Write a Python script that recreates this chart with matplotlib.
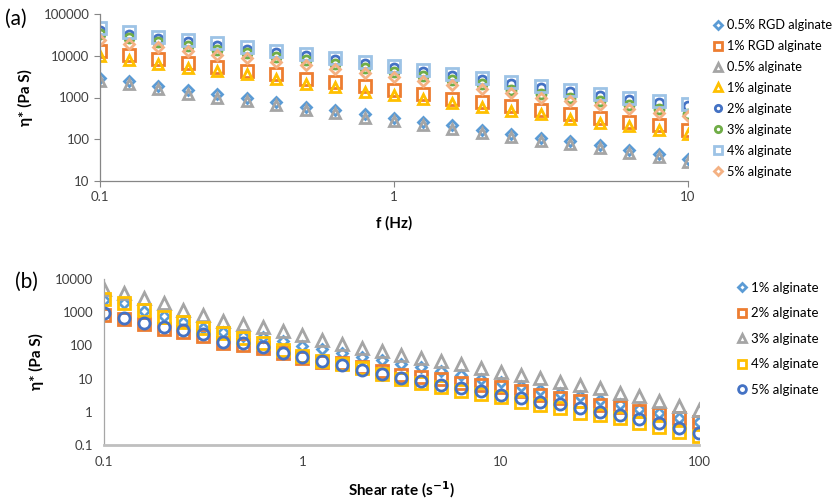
import matplotlib
matplotlib.use("Agg")
import matplotlib.pyplot as plt
import matplotlib.ticker as mticker
import numpy as np

plt.rcParams["font.family"] = ["Lato", "DejaVu Sans"]

# ── Panel (a): complex viscosity vs frequency ────────────────────────────────
freq = [0.1, 0.126, 0.158, 0.2, 0.251, 0.316, 0.398, 0.501, 0.631, 0.794, 1.0,
        1.26, 1.58, 2.0, 2.51, 3.16, 3.98, 5.01, 6.31, 7.94, 10.0]

visc_rgd_05 = [2950, 2500, 1870, 1490, 1190, 995, 780, 590, 510, 395, 330,
               257, 214, 169, 136, 109, 89, 71, 56, 45, 34]
visc_rgd_1 = [13100, 10300, 8300, 6750, 5400, 4330, 3600, 2850, 2360, 1860, 1490,
              1190, 940, 780, 614, 510, 410, 330, 257, 214, 169]
visc_alg_05 = [2450, 2080, 1560, 1240, 990, 830, 650, 490, 425, 330, 275,
               215, 178, 140, 115, 93, 76, 61, 48, 38, 29]
visc_alg_1 = [9800, 7800, 6500, 5200, 4330, 3600, 2850, 2160, 1790, 1360, 1130,
              940, 740, 590, 473, 395, 311, 244, 203, 163, 130]
visc_alg_2 = [40000, 32000, 25500, 21000, 17500, 14000, 11600, 9800, 7900, 6300, 5100,
              4000, 3250, 2650, 2100, 1660, 1330, 1100, 890, 740, 610]
visc_alg_3 = [33000, 26000, 21500, 17000, 14100, 11400, 9300, 7800, 6500, 5200, 4100,
              3240, 2590, 2070, 1550, 1240, 995, 810, 650, 530, 410]
visc_alg_4 = [45300, 36300, 28500, 23700, 19800, 15800, 13100, 11000, 8900, 7100, 5700,
              4500, 3630, 2960, 2360, 1860, 1490, 1240, 995, 825, 690]
visc_alg_5 = [24500, 19000, 15800, 13100, 10300, 8600, 7100, 5900, 4950, 3890, 3110,
              2500, 1960, 1570, 1280, 995, 825, 650, 540, 425, 353]

# ── Panel (b): complex viscosity vs shear rate ───────────────────────────────
shear = [0.1, 0.126, 0.158, 0.2, 0.251, 0.316, 0.398, 0.501, 0.631, 0.794,
         1.0, 1.26, 1.58, 2.0, 2.51, 3.16, 3.98, 5.01, 6.31, 7.94,
         10.0, 12.6, 15.8, 20.0, 25.1, 31.6, 39.8, 50.1, 63.1, 79.4, 100.0]

shear_alg_1 = [2300, 1900, 1120, 770, 490, 340, 260, 190, 180, 132, 96,
               77, 58, 46, 36, 28, 22, 17, 13, 9.8, 8.1,
               6.0, 4.6, 3.6, 2.9, 2.2, 1.7, 1.2, 0.9, 0.63, 0.5]
shear_alg_2 = [830, 620, 440, 320, 260, 190, 117, 105, 82, 60, 43,
               31, 29, 23, 17, 13, 11.5, 9.8, 7.6, 6.5, 5.7,
               4.1, 3.2, 2.6, 2.05, 1.6, 1.4, 1.07, 0.85, 0.63, 0.5]
shear_alg_3 = [4900, 3900, 2600, 1950, 1170, 830, 560, 440, 360, 270, 200,
               145, 110, 85, 66, 51, 42, 34, 27, 21, 16,
               13, 10.2, 7.8, 6.4, 5.1, 3.8, 2.9, 2.05, 1.5, 1.15]
shear_alg_4 = [2500, 1850, 1170, 740, 490, 325, 230, 163, 115, 72, 48,
               35, 27, 21, 14, 10, 7.2, 5.7, 4.1, 3.4, 2.8,
               2.0, 1.6, 1.26, 0.93, 0.8, 0.63, 0.47, 0.35, 0.25, 0.19]
shear_alg_5 = [970, 690, 480, 350, 290, 215, 130, 115, 91, 58, 46,
               35, 26, 18, 14, 10.3, 8.5, 6.5, 5.1, 4.1, 3.2,
               2.6, 2.0, 1.75, 1.32, 1.0, 0.8, 0.59, 0.45, 0.32, 0.23]

BLUE   = "#5B9BD5"
ORANGE = "#ED7D31"
GRAY   = "#A5A5A5"
YELLOW = "#FFC000"
NAVY   = "#4472C4"
GREEN  = "#70AD47"
LBLUE  = "#9DC3E6"
SALMON = "#F4B183"
TICK_C = "#404040"

fmt = mticker.FuncFormatter(lambda v, _: f"{v:g}")

fig = plt.figure(figsize=(8.4, 5.0), dpi=100)
ax_a = fig.add_axes([0.119, 0.638, 0.700, 0.334])
ax_b = fig.add_axes([0.124, 0.110, 0.708, 0.332])

# ── Panel (a) ────────────────────────────────────────────────────────────────
series_a = [
    (visc_rgd_05, "0.5% RGD alginate", "D", BLUE, 5.5),
    (visc_rgd_1,  "1% RGD alginate",   "s", ORANGE, 8),
    (visc_alg_05, "0.5% alginate",     "^", GRAY, 7.5),
    (visc_alg_1,  "1% alginate",       "^", YELLOW, 7.5),
    (visc_alg_2,  "2% alginate",       "o", NAVY, 6.5),
    (visc_alg_3,  "3% alginate",       "o", GREEN, 6.5),
    (visc_alg_4,  "4% alginate",       "s", LBLUE, 8),
    (visc_alg_5,  "5% alginate",       "D", SALMON, 5.5),
]
for vals, lab, mk, col, ms in series_a:
    ax_a.plot(freq, vals, ls="none", marker=mk, ms=ms, mfc="none",
              mec=col, mew=2, label=lab)

ax_a.set_xscale("log")
ax_a.set_yscale("log")
ax_a.set_xlim(0.1, 10)
ax_a.set_ylim(10, 100000)
ax_a.xaxis.set_major_formatter(fmt)
ax_a.yaxis.set_major_formatter(fmt)
ax_a.xaxis.set_minor_locator(mticker.NullLocator())
ax_a.yaxis.set_minor_locator(mticker.NullLocator())
ax_a.tick_params(axis="both", length=4, width=0.8, color="#868686",
                 labelsize=9.5, labelcolor=TICK_C)
for side in ["top", "right"]:
    ax_a.spines[side].set_visible(False)
for side in ["left", "bottom"]:
    ax_a.spines[side].set_color("#868686")
    ax_a.spines[side].set_linewidth(0.9)
ax_a.set_xlabel("f (Hz)", fontsize=11, fontweight="bold", labelpad=9)
ax_a.set_ylabel("η* (Pa S)", fontsize=11, fontweight="bold", labelpad=8)
ax_a.legend(loc="upper left", bbox_to_anchor=(0.843, 0.972),
            bbox_transform=fig.transFigure, frameon=False, fontsize=9.2,
            handlelength=0.8, handletextpad=0.3, labelspacing=0.70,
            borderaxespad=0, markerscale=0.7)
fig.text(0.006, 0.962, "(a)", fontsize=15, va="center", ha="left")

# ── Panel (b) ────────────────────────────────────────────────────────────────
series_b = [
    (shear_alg_1, "1% alginate", "D", BLUE, 5.5),
    (shear_alg_2, "2% alginate", "s", ORANGE, 8),
    (shear_alg_3, "3% alginate", "^", GRAY, 8),
    (shear_alg_4, "4% alginate", "s", YELLOW, 8),
    (shear_alg_5, "5% alginate", "o", NAVY, 8),
]
for vals, lab, mk, col, ms in series_b:
    ax_b.plot(shear, vals, ls="none", marker=mk, ms=ms, mfc="none",
              mec=col, mew=2, label=lab)

ax_b.set_xscale("log")
ax_b.set_yscale("log")
ax_b.set_xlim(0.1, 100)
ax_b.set_ylim(0.1, 10000)
ax_b.xaxis.set_major_formatter(fmt)
ax_b.yaxis.set_major_formatter(fmt)
ax_b.xaxis.set_minor_locator(mticker.NullLocator())
ax_b.yaxis.set_minor_locator(mticker.NullLocator())
ax_b.tick_params(axis="both", length=0, labelsize=9.5, labelcolor=TICK_C, pad=8)
for side in ["top", "right"]:
    ax_b.spines[side].set_visible(False)
ax_b.spines["left"].set_color("#A6A6A6")
ax_b.spines["left"].set_linewidth(0.9)
ax_b.spines["bottom"].set_color("#BFBFBF")
ax_b.spines["bottom"].set_linewidth(2)
ax_b.set_xlabel(r"Shear rate (s$^{\mathbf{-1}}$)", fontsize=11,
                fontweight="bold", labelpad=8)
ax_b.set_ylabel("η* (Pa S)", fontsize=11, fontweight="bold", labelpad=8)
ax_b.legend(loc="upper left", bbox_to_anchor=(0.871, 0.447),
            bbox_transform=fig.transFigure, frameon=False, fontsize=9.5,
            handlelength=0.8, handletextpad=0.3, labelspacing=1.02,
            borderaxespad=0, markerscale=0.7)
fig.text(0.018, 0.436, "(b)", fontsize=15, va="center", ha="left")

plt.savefig("out.png", dpi=100, facecolor="white")
